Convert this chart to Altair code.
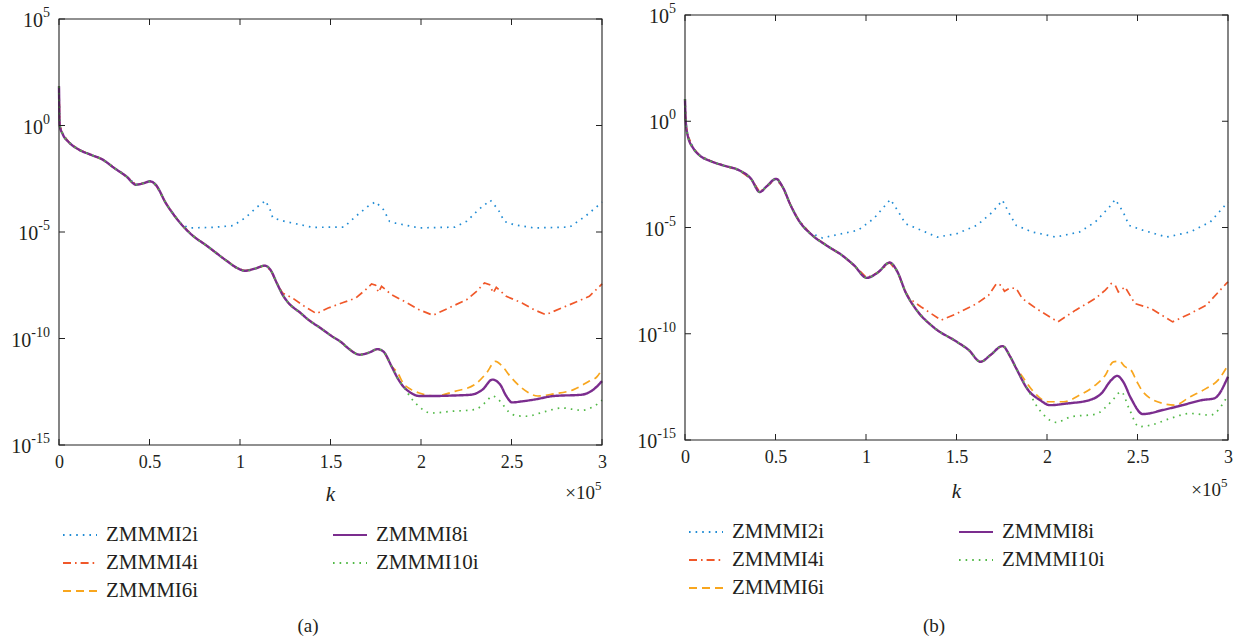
import altair as alt
import pandas as pd

SERIF = "Liberation Serif"
INK = "#231f20"
FRAME = "#222222"

SERIES = ["ZMMMI2i", "ZMMMI4i", "ZMMMI6i", "ZMMMI8i", "ZMMMI10i"]
COLORS = ["#1f8bd4", "#f0582a", "#f8a61e", "#7b2d8e", "#52b947"]
DASHES = [[1.6, 5], [8, 4, 1.6, 4], [8, 5], [1, 0], [1.6, 5]]
WIDTHS = [1.7, 1.7, 1.7, 2.4, 1.7]
INTERP = ["linear", "linear", "monotone", "monotone", "monotone"]

X_TICKS = [0, 0.5, 1, 1.5, 2, 2.5, 3]
Y_TICKS = [1e-15, 1e-10, 1e-5, 1e0, 1e5]
Y_EXPONENTS = ["-15", "-10", "-5", "0", "5"]

# ---- panel (a): k in units of 1e5, values as base-10 exponents ----
A_MAIN_K = [0, 0.004, 0.022, 0.055, 0.109, 0.175, 0.241, 0.306, 0.372, 0.426, 0.470,
            0.503, 0.536, 0.590, 0.634, 0.678, 0.743, 0.809, 0.918, 0.984, 1.028,
            1.082, 1.137, 1.170, 1.203, 1.235, 1.268, 1.334, 1.378, 1.443, 1.509,
            1.563, 1.596, 1.662, 1.716, 1.760, 1.793, 1.837, 1.870, 1.902, 1.946, 1.990]
A_MAIN_E = [1.84, 0.0, -0.43, -0.79, -1.13, -1.37, -1.6, -2.0, -2.39, -2.78, -2.7,
            -2.62, -2.8, -3.64, -4.19, -4.66, -5.2, -5.6, -6.3, -6.69, -6.82,
            -6.72, -6.58, -6.8, -7.39, -7.94, -8.33, -8.8, -9.12, -9.5, -9.9,
            -10.2, -10.45, -10.76, -10.65, -10.5, -10.62, -11.3, -11.85, -12.25, -12.56, -12.7]

A_2I_K = [0.722, 0.853, 0.962, 1.028, 1.094, 1.141, 1.166, 1.181, 1.247, 1.334, 1.399,
          1.574, 1.640, 1.706, 1.749, 1.793, 1.826, 1.859, 1.990, 2.187, 2.252, 2.318,
          2.383, 2.427, 2.460, 2.515, 2.624, 2.821, 2.908, 2.963, 3.0]
A_2I_E = [-4.81, -4.78, -4.7, -4.34, -3.83, -3.53, -3.95, -4.34, -4.5, -4.66, -4.78,
          -4.77, -4.26, -3.8, -3.58, -3.95, -4.5, -4.58, -4.81, -4.77, -4.5, -3.95,
          -3.51, -3.95, -4.5, -4.66, -4.81, -4.77, -4.26, -3.87, -3.6]

A_4I_K = [1.235, 1.290, 1.356, 1.422, 1.487, 1.574, 1.640, 1.695, 1.727, 1.749, 1.765,
          1.782, 1.837, 1.924, 1.990, 2.066, 2.165, 2.252, 2.307, 2.351, 2.379, 2.399,
          2.416, 2.471, 2.558, 2.624, 2.690, 2.777, 2.864, 2.930, 3.0]
A_4I_E = [-7.86, -8.1, -8.49, -8.83, -8.57, -8.3, -8.1, -7.7, -7.44, -7.5, -7.83,
          -7.55, -7.94, -8.33, -8.65, -8.91, -8.52, -8.18, -7.79, -7.39, -7.47, -7.86,
          -7.6, -8.02, -8.33, -8.65, -8.88, -8.57, -8.26, -8.02, -7.44]

A_6I_K = [1.870, 1.902, 1.946, 1.990, 2.077, 2.187, 2.296, 2.362, 2.412, 2.449, 2.493,
          2.558, 2.646, 2.733, 2.843, 2.930, 2.974, 3.0]
A_6I_E = [-11.6, -12.1, -12.4, -12.56, -12.7, -12.48, -12.17, -11.62, -11.07, -11.3, -11.78,
          -12.33, -12.7, -12.6, -12.4, -12.0, -11.78, -11.43]

A_8I_K = [2.077, 2.165, 2.274, 2.340, 2.394, 2.438, 2.471, 2.504, 2.558, 2.624, 2.733,
          2.886, 2.952, 3.0]
A_8I_E = [-12.7, -12.68, -12.64, -12.4, -11.93, -12.17, -12.7, -13.0, -12.95, -12.87, -12.7,
          -12.64, -12.4, -12.0]

A_10I_K = [1.946, 1.990, 2.055, 2.165, 2.296, 2.362, 2.394, 2.438, 2.482, 2.526, 2.580,
           2.690, 2.777, 2.886, 2.952, 3.0]
A_10I_E = [-12.8, -13.2, -13.5, -13.42, -13.34, -12.95, -12.7, -12.95, -13.42, -13.62, -13.65,
           -13.42, -13.26, -13.37, -13.2, -12.9]

# ---- panel (b) ----
B_MAIN_K = [0, 0.004, 0.015, 0.048, 0.081, 0.146, 0.212, 0.300, 0.365, 0.413, 0.453,
            0.503, 0.540, 0.584, 0.628, 0.693, 0.781, 0.868, 0.934, 1.004, 1.065,
            1.131, 1.174, 1.218, 1.273, 1.371, 1.502, 1.568, 1.633, 1.688, 1.754,
            1.797, 1.830, 1.896, 1.961, 2.016]
B_MAIN_E = [1.05, 0.0, -0.67, -1.3, -1.61, -1.89, -2.08, -2.31, -2.71, -3.33, -3.05,
            -2.71, -3.1, -3.96, -4.66, -5.29, -5.84, -6.31, -6.78, -7.37, -7.12,
            -6.65, -7.09, -8.03, -8.81, -9.68, -10.38, -10.77, -11.32, -11.0, -10.58,
            -11.08, -11.63, -12.65, -13.12, -13.36]

B_2I_K = [0.671, 0.759, 0.868, 0.956, 1.043, 1.135, 1.174, 1.218, 1.305, 1.393, 1.502,
          1.612, 1.699, 1.754, 1.797, 1.830, 1.918, 2.049, 2.180, 2.267, 2.344, 2.377,
          2.421, 2.453, 2.530, 2.661, 2.792, 2.902, 3.0]
B_2I_E = [-5.18, -5.49, -5.29, -5.13, -4.58, -3.68, -4.19, -4.82, -5.13, -5.45, -5.29,
          -4.9, -4.27, -3.72, -4.43, -4.9, -5.21, -5.45, -5.21, -4.74, -4.04, -3.68,
          -4.27, -4.9, -5.13, -5.45, -5.21, -4.74, -3.8]

B_4I_K = [1.240, 1.305, 1.415, 1.502, 1.612, 1.677, 1.721, 1.747, 1.765, 1.797, 1.830,
          1.863, 1.940, 2.060, 2.158, 2.267, 2.322, 2.355, 2.377, 2.394, 2.431, 2.486,
          2.574, 2.694, 2.792, 2.880, 2.990, 3.0]
B_4I_E = [-8.34, -8.74, -9.36, -9.05, -8.58, -8.19, -7.64, -7.72, -8.0, -7.84, -7.87,
          -8.34, -8.81, -9.44, -8.89, -8.34, -7.95, -7.64, -7.72, -8.03, -7.8, -8.58,
          -8.81, -9.44, -9.05, -8.66, -7.64, -7.56]

B_6I_K = [1.852, 1.918, 2.005, 2.092, 2.180, 2.267, 2.322, 2.366, 2.399, 2.431, 2.464,
          2.497, 2.530, 2.639, 2.705, 2.792, 2.880, 2.945, 3.0]
B_6I_E = [-11.87, -12.65, -13.2, -13.2, -12.89, -12.42, -11.95, -11.32, -11.29, -11.55, -11.71,
          -12.26, -12.73, -13.28, -13.36, -12.96, -12.57, -12.18, -11.48]

B_8I_K = [2.114, 2.235, 2.300, 2.355, 2.388, 2.421, 2.464, 2.530, 2.639, 2.749, 2.858,
          2.924, 3.0]
B_8I_E = [-13.28, -13.12, -12.81, -12.18, -11.98, -12.26, -13.04, -13.78, -13.59, -13.36, -13.12,
          -13.04, -12.02]

B_10I_K = [1.940, 1.983, 2.049, 2.136, 2.267, 2.355, 2.410, 2.453, 2.508, 2.574, 2.683,
           2.792, 2.902, 3.0]
B_10I_E = [-13.36, -13.83, -14.17, -13.9, -13.79, -13.2, -12.73, -13.51, -14.37, -14.3, -13.98,
           -13.75, -13.83, -12.89]

W = 543        # plot width
VIEW_H = 430   # height of each view; each panel's frame sits inside it


def build_frame(main_k, main_e, tails):
    """Every series follows the shared curve until its own tail begins."""
    rows = []
    for name, (tk, te) in zip(SERIES, tails):
        for k, e in zip(main_k, main_e):
            if k < tk[0]:
                rows.append({"series": name, "k": k, "v": 10.0 ** e})
        for k, e in zip(tk, te):
            rows.append({"series": name, "k": k, "v": 10.0 ** e})
    return pd.DataFrame(rows)


def exponent_width(text):
    # rough advance of the superscript at 14px: digits 7px, minus 4.7px
    return sum(4.7 if ch == "-" else 7.0 for ch in text)


def panel(df, tag, top, bottom, text_shift):
    legend = alt.Legend(
        orient="none", legendX=3, legendY=502 - text_shift, columns=2, columnPadding=130,
        rowPadding=-10, symbolType="stroke", symbolSize=1156, symbolStrokeWidth=1.9,
        labelFont=SERIF, labelFontSize=21, labelColor=INK, labelOffset=8, title=None,
    )
    color = alt.Color("series:N", legend=legend,
                      scale=alt.Scale(domain=SERIES, range=COLORS))
    dash = alt.StrokeDash("series:N", legend=legend,
                          scale=alt.Scale(domain=SERIES, range=DASHES))
    x_enc = alt.X("k:Q", scale=alt.Scale(domain=[0, 3], nice=False, zero=False),
                  axis=alt.Axis(values=X_TICKS, format="~g", labelPadding=8, title=None,
                                labelFlush=False, offset=bottom - VIEW_H))
    y_enc = alt.Y("v:Q", axis=None,
                  scale=alt.Scale(type="log", domain=[1e-15, 1e5], nice=False,
                                  range=[bottom, top]))

    layers = []
    for i, name in enumerate(SERIES):
        layers.append(
            alt.Chart(df).transform_filter(alt.datum.series == name)
            .mark_line(interpolate=INTERP[i], strokeWidth=WIDTHS[i])
            .encode(x=x_enc, y=y_enc, color=color, strokeDash=dash, order="k:Q")
        )

    # frame and inward tick marks on all four sides
    xt = pd.DataFrame({"k": X_TICKS})
    yt = pd.DataFrame({"v": Y_TICKS, "e": Y_EXPONENTS})
    tick = dict(color=FRAME, strokeWidth=1)
    layers += [
        alt.Chart(xt).mark_rule(**tick).encode(x=x_enc, y=alt.value(bottom), y2=alt.value(bottom - 6)),
        alt.Chart(xt).mark_rule(**tick).encode(x=x_enc, y=alt.value(top), y2=alt.value(top + 6)),
        alt.Chart(yt).mark_rule(**tick).encode(y=y_enc, x=alt.value(0), x2=alt.value(6)),
        alt.Chart(yt).mark_rule(**tick).encode(y=y_enc, x=alt.value(W - 6), x2=alt.value(W)),
        alt.Chart(xt.head(1)).mark_rect(fillOpacity=0, stroke=FRAME, strokeWidth=1.1)
        .encode(x=alt.value(0), x2=alt.value(W), y=alt.value(top), y2=alt.value(bottom)),
    ]

    # y tick labels: "10" with a raised exponent, right-aligned as a whole
    layers.append(
        alt.Chart(yt).mark_text(font=SERIF, fontSize=14, color=INK, align="right",
                                baseline="middle", dx=-9, dy=-6)
        .encode(y=y_enc, x=alt.value(0), text="e:N")
    )
    for v, e in zip(Y_TICKS, Y_EXPONENTS):
        layers.append(
            alt.Chart(pd.DataFrame({"v": [v], "b": ["10"]}))
            .mark_text(font=SERIF, fontSize=20, color=INK, align="right", baseline="middle",
                       dx=-9 - exponent_width(e), dy=2)
            .encode(y=y_enc, x=alt.value(0), text="b:N")
        )

    lab = pd.DataFrame({"k": ["k"], "m": ["×10"], "p": ["5"], "tag": [tag]})
    layers += [
        alt.Chart(lab).mark_text(font=SERIF, fontSize=21, fontStyle="italic", color=INK,
                                 baseline="middle")
        .encode(text="k:N", x=alt.value(W / 2), y=alt.value(480 - text_shift)),
        alt.Chart(lab).mark_text(font=SERIF, fontSize=19, color=INK, align="right",
                                 baseline="middle")
        .encode(text="m:N", x=alt.value(W - 7), y=alt.value(478 - text_shift)),
        alt.Chart(lab).mark_text(font=SERIF, fontSize=13, color=INK, align="left",
                                 baseline="middle")
        .encode(text="p:N", x=alt.value(W - 7), y=alt.value(471 - text_shift)),
        alt.Chart(lab).mark_text(font=SERIF, fontSize=19, color=INK, baseline="middle")
        .encode(text="tag:N", x=alt.value(249), y=alt.value(611)),
        # invisible spacer fixing the panel's left and top extent
        alt.Chart(lab).mark_rule(opacity=0)
        .encode(x=alt.value(-50), x2=alt.value(-48), y=alt.value(-12), y2=alt.value(-10)),
    ]
    return alt.layer(*layers).properties(width=W, height=VIEW_H)


frame_a = build_frame(A_MAIN_K, A_MAIN_E,
                      [(A_2I_K, A_2I_E), (A_4I_K, A_4I_E), (A_6I_K, A_6I_E),
                       (A_8I_K, A_8I_E), (A_10I_K, A_10I_E)])
frame_b = build_frame(B_MAIN_K, B_MAIN_E,
                      [(B_2I_K, B_2I_E), (B_4I_K, B_4I_E), (B_6I_K, B_6I_E),
                       (B_8I_K, B_8I_E), (B_10I_K, B_10I_E)])

chart = (
    alt.hconcat(panel(frame_a, "(a)", 4, 430, 0), panel(frame_b, "(b)", 0, 425, 3),
                spacing=28)
    .resolve_scale(color="independent", strokeDash="independent")
    .properties(padding={"left": 9, "top": 2, "right": 0, "bottom": 0})
    .configure_view(stroke=None)
    .configure_axis(labelFont=SERIF, labelFontSize=18, labelColor=INK, ticks=False,
                    domain=False, grid=False)
)

chart.save("out.html", embed_options={"renderer": "svg", "actions": False})
